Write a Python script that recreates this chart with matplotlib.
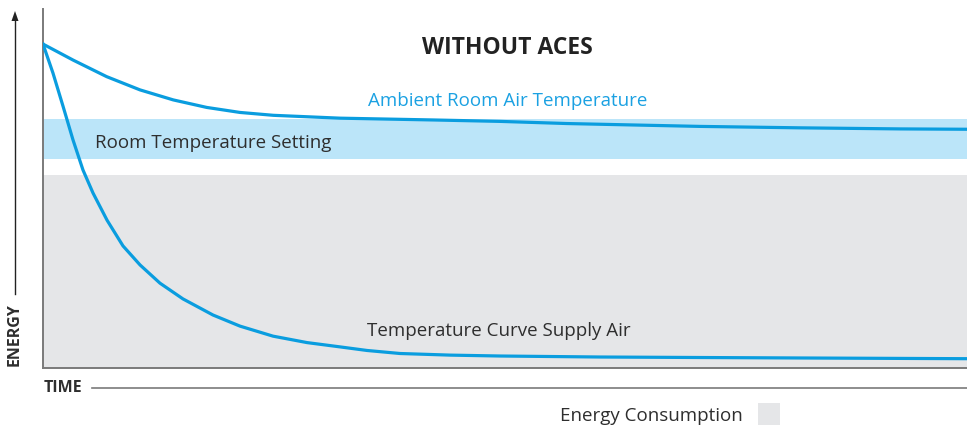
import matplotlib.pyplot as plt
from matplotlib.patches import Rectangle

plt.rcParams['font.family'] = ['Open Sans', 'DejaVu Sans']

# time axis 0..100, energy axis 0..100
ambientTime = [0, 3.28, 6.89, 10.5, 14.1, 17.72, 21.32, 24.92, 28.54, 32.14, 42.21, 49.46, 56.71, 63.85, 71.1, 81.93, 92.75, 100]
ambientEnergy = [90.5, 86.0, 81.4, 77.7, 74.9, 72.8, 71.4, 70.6, 70.2, 69.8, 69.3, 68.9, 68.3, 67.9, 67.5, 67.1, 66.8, 66.7]

supplyTime = [0, 1.08, 2.16, 3.25, 4.33, 5.41, 6.93, 8.66, 10.5, 12.66, 15.15, 18.4, 21.32, 24.89, 28.57,
              32.14, 35.06, 38.64, 44.05, 49.46, 60.28, 71.1, 81.93, 100]
supplyEnergy = [90.5, 82.4, 73.2, 63.7, 55.3, 48.9, 41.3, 34.1, 28.8, 23.7, 19.3, 14.8, 11.7, 8.9, 7.1,
                5.9, 4.9, 4.05, 3.6, 3.35, 3.07, 2.93, 2.8, 2.6]

settingBand = (58.4, 69.6)
consumptionLevel = 53.9

blue = '#0a9ddf'
textColor = '#2e2e2e'
grey = '#e5e6e8'

W, H = 967, 430
fig = plt.figure(figsize=(W / 100, H / 100), dpi=100)
ax = fig.add_axes([43 / W, 1 - 368 / H, 1 - 43 / W, (368 - 9) / H])
ax.set_xlim(0, 100)
ax.set_ylim(0, 100.3)

ax.axhspan(0, consumptionLevel, color=grey, lw=0, zorder=1)
ax.axhspan(settingBand[0], settingBand[1], color='#bbe5f9', lw=0, zorder=1)

ax.plot(ambientTime, ambientEnergy, color=blue, linewidth=2.3, zorder=3)
ax.plot(supplyTime, supplyEnergy, color=blue, linewidth=2.3, zorder=3)

ax.set_xticks([])
ax.set_yticks([])
for side in ['top', 'right']:
    ax.spines[side].set_visible(False)
for side in ['left', 'bottom']:
    ax.spines[side].set_color('#7a7a7a')
    ax.spines[side].set_linewidth(1.4)


def px(x, y):
    return x / W, 1 - y / H


fig.text(*px(507, 48), 'WITHOUT ACES', fontsize=16.5, fontweight='bold', color='#222222', ha='center', va='center')
fig.text(*px(368, 101), 'Ambient Room Air Temperature', fontsize=13.5, color='#1ba1e2', ha='left', va='center')
fig.text(*px(95, 143), 'Room Temperature Setting', fontsize=13.5, color=textColor, ha='left', va='center')
fig.text(*px(367, 331), 'Temperature Curve Supply Air', fontsize=13.5, color=textColor, ha='left', va='center')
fig.text(*px(560, 416), 'Energy Consumption', fontsize=13.5, color=textColor, ha='left', va='center')
fig.patches.append(Rectangle(px(758, 425), 22 / W, 22 / H, transform=fig.transFigure, color=grey, lw=0))

# energy arrow and label
fig.add_artist(plt.Line2D([15 / W, 15 / W], [1 - 294 / H, 1 - 20 / H], color='#222222', lw=1.0))
fig.add_artist(plt.Polygon([px(15, 11), px(11.5, 21), px(18.5, 21)], closed=True, color='#222222', lw=0))
fig.text(*px(15, 335), 'ENERGY', fontsize=11.5, fontweight='bold', color=textColor, rotation=90, ha='center', va='center')

# time label and line
fig.text(*px(44, 388), 'TIME', fontsize=11.5, fontweight='bold', color=textColor, ha='left', va='center')
fig.add_artist(plt.Line2D([92 / W, 1], [1 - 387.5 / H, 1 - 387.5 / H], color='#7a7a7a', lw=1.2))

fig.savefig('out.png', dpi=100)
